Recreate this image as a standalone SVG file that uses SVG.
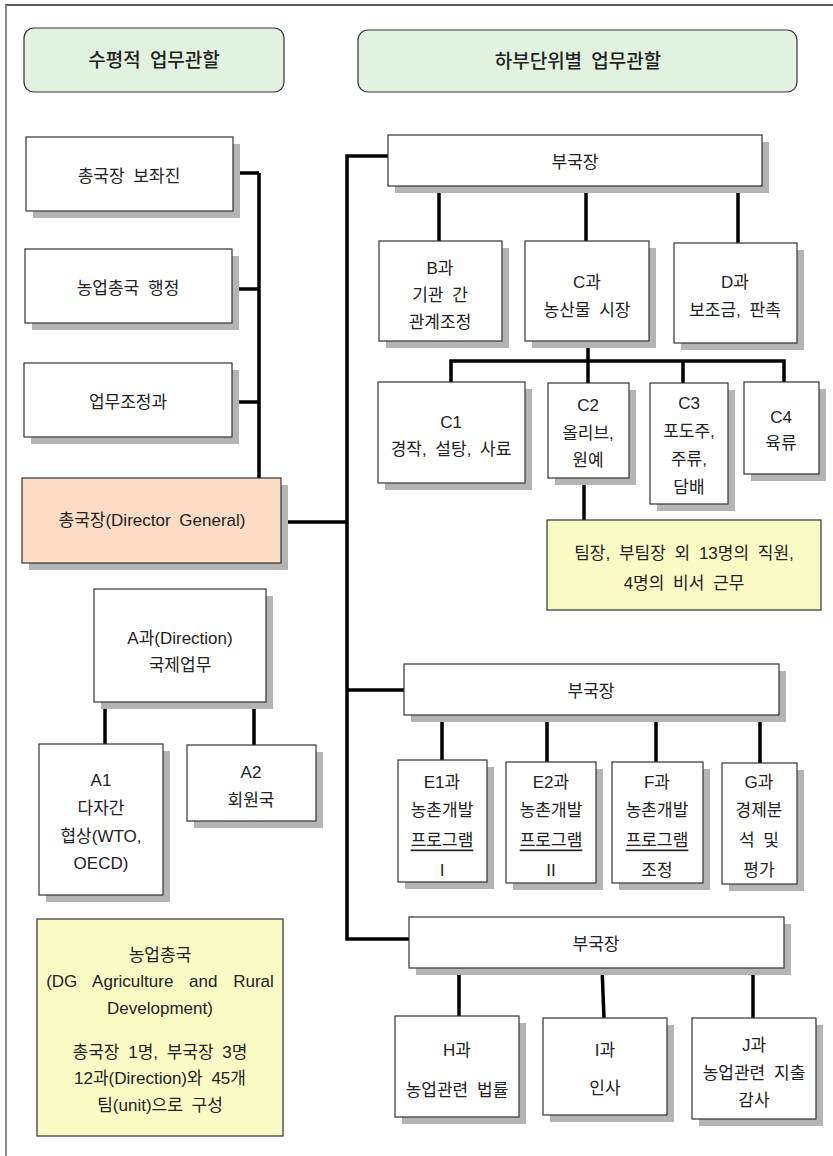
<svg xmlns="http://www.w3.org/2000/svg" width="833" height="1156" viewBox="0 0 833 1156">
<style>
.t{font-family:"Liberation Sans","Noto Sans CJK KR",sans-serif;font-size:17px;fill:#222;text-anchor:middle;dominant-baseline:central;word-spacing:4px}
.h{font-size:19px;font-weight:500}
.b{fill:#fff;stroke:#333;stroke-width:1.2}
.sh{fill:#b4b4b4}
.hd{fill:#e2f2e0;stroke:#333;stroke-width:1.2}
.y{fill:#fafac4;stroke:#333;stroke-width:1.2}
.dg{fill:#fcdcc4;stroke:#333;stroke-width:1.2}
.c{fill:none;stroke:#000;stroke-width:3.5}
.u{text-decoration:underline}
</style>
<rect width="833" height="1156" fill="#fff"/>
<g id="frame">
<line x1="5" y1="5" x2="833" y2="5" stroke="#222" stroke-width="1.5"/>
<line x1="6" y1="5" x2="6" y2="1156" stroke="#888" stroke-width="2"/>
</g>
<g id="connectors">
<path class="c" d="M233,173 H259 M232,289 H259 M232,402 H259 M259,173 V478"/>
<path class="c" d="M281,522 H347 M388,156 H347 V939 H409 M347,690 H404"/>
<path class="c" d="M439,186 V241 M586,186 V241 M738,186 V243"/>
<path class="c" d="M588,341 V383 M451,382 V361 H784 V382 M683,361 V383"/>
<path class="c" d="M584,478 V520"/>
<path class="c" d="M105,702 V744 M254,702 V745"/>
<path class="c" d="M442,715 V760 M547,715 V762 M656,715 V762 M760,715 V763"/>
<path class="c" d="M459,968 V1016 M602,968 L604,1018 M753,968 V1018"/>
</g>
<g id="hdr1"><rect class="hd" x="24" y="28" width="260" height="64" rx="10"/><text class="t h" x="154" y="60">수평적 업무관할</text></g>
<g id="hdr2"><rect class="hd" x="358" y="30" width="439" height="62" rx="10"/><text class="t h" x="578" y="61">하부단위별 업무관할</text></g>
<g id="n1"><rect class="sh" x="33" y="144" width="207" height="74"/><rect class="b" x="26" y="137" width="207" height="74"/><text class="t" x="129" y="176">총국장 보좌진</text></g>
<g id="n2"><rect class="sh" x="32" y="256" width="207" height="74"/><rect class="b" x="25" y="249" width="207" height="74"/><text class="t" x="128" y="288">농업총국 행정</text></g>
<g id="n3"><rect class="sh" x="31" y="370" width="208" height="74"/><rect class="b" x="24" y="363" width="208" height="74"/><text class="t" x="128" y="402">업무조정과</text></g>
<g id="dg"><rect class="sh" x="29" y="485" width="259" height="85"/><rect class="dg" x="22" y="478" width="259" height="85"/><text class="t" x="152" y="520">총국장(Director General)</text></g>
<g id="ba"><rect class="sh" x="395" y="142" width="374" height="51"/><rect class="b" x="388" y="135" width="374" height="51"/><text class="t" x="575" y="162">부국장</text></g>
<g id="B"><rect class="sh" x="386" y="248" width="123" height="100"/><rect class="b" x="379" y="241" width="123" height="100"/><text class="t" x="440" y="268">B과</text><text class="t" x="440" y="295">기관 간</text><text class="t" x="440" y="322">관계조정</text></g>
<g id="C"><rect class="sh" x="532" y="248" width="124" height="100"/><rect class="b" x="525" y="241" width="124" height="100"/><text class="t" x="587" y="282">C과</text><text class="t" x="587" y="310">농산물 시장</text></g>
<g id="D"><rect class="sh" x="681" y="250" width="123" height="100"/><rect class="b" x="674" y="243" width="123" height="100"/><text class="t" x="735" y="282">D과</text><text class="t" x="735" y="310">보조금, 판촉</text></g>
<g id="C1"><rect class="sh" x="385" y="389" width="147" height="101"/><rect class="b" x="378" y="382" width="147" height="101"/><text class="t" x="451" y="422">C1</text><text class="t" x="451" y="449">경작, 설탕, 사료</text></g>
<g id="C2"><rect class="sh" x="555" y="390" width="81" height="95"/><rect class="b" x="548" y="383" width="81" height="95"/><text class="t" x="588" y="405">C2</text><text class="t" x="588" y="433">올리브,</text><text class="t" x="588" y="460">원예</text></g>
<g id="C3"><rect class="sh" x="657" y="390" width="78" height="121"/><rect class="b" x="650" y="383" width="78" height="121"/><text class="t" x="689" y="403">C3</text><text class="t" x="689" y="431">포도주,</text><text class="t" x="689" y="459">주류,</text><text class="t" x="689" y="487">담배</text></g>
<g id="C4"><rect class="sh" x="751" y="389" width="75" height="92"/><rect class="b" x="744" y="382" width="75" height="92"/><text class="t" x="781" y="417">C4</text><text class="t" x="781" y="443">육류</text></g>
<g id="note1"><rect class="y" x="547" y="520" width="274" height="90"/><text class="t" x="684" y="553">팀장, 부팀장 외 13명의 직원,</text><text class="t" x="684" y="583">4명의 비서 근무</text></g>
<g id="A"><rect class="sh" x="101" y="596" width="172" height="113"/><rect class="b" x="94" y="589" width="172" height="113"/><text class="t" x="180" y="638">A과(Direction)</text><text class="t" x="180" y="665">국제업무</text></g>
<g id="A1"><rect class="sh" x="46" y="751" width="124" height="151"/><rect class="b" x="39" y="744" width="124" height="151"/><text class="t" x="101" y="780">A1</text><text class="t" x="101" y="808">다자간</text><text class="t" x="101" y="836">협상(WTO,</text><text class="t" x="101" y="863">OECD)</text></g>
<g id="A2"><rect class="sh" x="194" y="752" width="129" height="76"/><rect class="b" x="187" y="745" width="129" height="76"/><text class="t" x="251" y="772">A2</text><text class="t" x="251" y="800">회원국</text></g>
<g id="bb"><rect class="sh" x="411" y="671" width="375" height="51"/><rect class="b" x="404" y="664" width="375" height="51"/><text class="t" x="591" y="691">부국장</text></g>
<g id="E1"><rect class="sh" x="405" y="767" width="89" height="122"/><rect class="b" x="398" y="760" width="89" height="122"/><text class="t" x="442" y="782">E1과</text><text class="t" x="442" y="810">농촌개발</text><text class="t u" x="442" y="840">프로그램</text><text class="t" x="442" y="870">I</text></g>
<g id="E2"><rect class="sh" x="513" y="769" width="90" height="121"/><rect class="b" x="506" y="762" width="90" height="121"/><text class="t" x="551" y="782">E2과</text><text class="t" x="551" y="810">농촌개발</text><text class="t u" x="551" y="840">프로그램</text><text class="t" x="551" y="870">II</text></g>
<g id="F"><rect class="sh" x="619" y="769" width="91" height="121"/><rect class="b" x="612" y="762" width="91" height="121"/><text class="t" x="657" y="782">F과</text><text class="t" x="657" y="810">농촌개발</text><text class="t u" x="657" y="840">프로그램</text><text class="t" x="657" y="870">조정</text></g>
<g id="G"><rect class="sh" x="729" y="770" width="75" height="121"/><rect class="b" x="722" y="763" width="75" height="121"/><text class="t" x="759" y="782">G과</text><text class="t" x="759" y="810">경제분</text><text class="t" x="759" y="840">석 및</text><text class="t" x="759" y="870">평가</text></g>
<g id="bc"><rect class="sh" x="416" y="924" width="375" height="51"/><rect class="b" x="409" y="917" width="375" height="51"/><text class="t" x="596" y="944">부국장</text></g>
<g id="H"><rect class="sh" x="402" y="1023" width="124" height="101"/><rect class="b" x="395" y="1016" width="124" height="101"/><text class="t" x="457" y="1050">H과</text><text class="t" x="457" y="1090">농업관련 법률</text></g>
<g id="I"><rect class="sh" x="550" y="1025" width="124" height="97"/><rect class="b" x="543" y="1018" width="124" height="97"/><text class="t" x="605" y="1050">I과</text><text class="t" x="605" y="1088">인사</text></g>
<g id="J"><rect class="sh" x="699" y="1025" width="124" height="101"/><rect class="b" x="692" y="1018" width="124" height="101"/><text class="t" x="754" y="1045">J과</text><text class="t" x="754" y="1073">농업관련 지출</text><text class="t" x="754" y="1100">감사</text></g>
<g id="note2"><rect class="y" x="37" y="919" width="246" height="217"/><text class="t" x="160" y="955">농업총국</text><text class="t" x="160" y="981" style="word-spacing:11px">(DG Agriculture and Rural</text><text class="t" x="160" y="1008">Development)</text><text class="t" x="160" y="1052">총국장 1명, 부국장 3명</text><text class="t" x="160" y="1078">12과(Direction)와 45개</text><text class="t" x="160" y="1105">팀(unit)으로 구성</text></g>
</svg>
